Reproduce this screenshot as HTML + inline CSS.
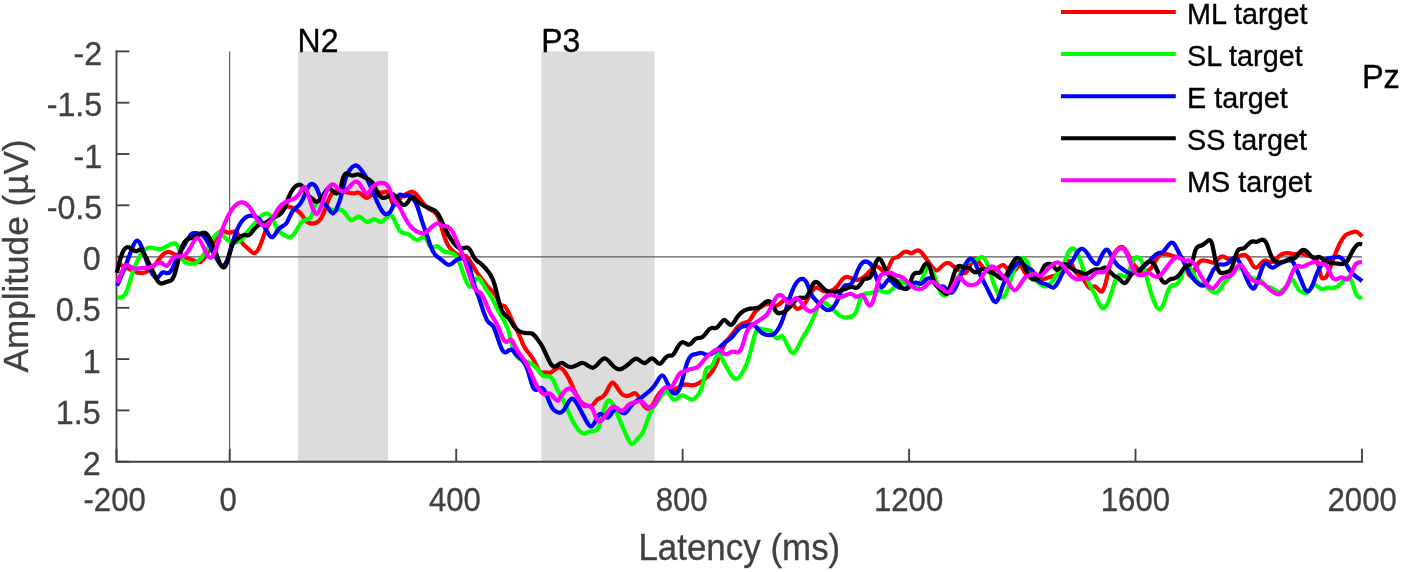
<!DOCTYPE html>
<html><head><meta charset="utf-8"><title>ERP Pz</title>
<style>
html,body{margin:0;padding:0;background:#fff;}
svg{display:block;}
text{font-family:"Liberation Sans",Arial,Helvetica,sans-serif;}
.tk{font-size:31.2px;fill:#404040;stroke:#404040;stroke-width:0.3px;}
.lb{font-size:33.6px;fill:#404040;stroke:#404040;stroke-width:0.3px;}
.lg{font-size:30.2px;fill:#000;stroke:#000;stroke-width:0.35px;}
.cv{fill:none;stroke-width:4.25;stroke-linejoin:round;stroke-linecap:butt;}
</style></head>
<body>
<svg width="1401" height="572" viewBox="0 0 1401 572">
<rect width="1401" height="572" fill="#ffffff"/>
<rect x="298" y="51.4" width="90" height="410.3" fill="#dcdcdc"/>
<rect x="541.4" y="51.4" width="113.1" height="410.3" fill="#dcdcdc"/>
<line x1="116.5" y1="256.8" x2="1362.0" y2="256.8" stroke="#5a5a5a" stroke-width="1.3"/>
<line x1="229.7" y1="51.4" x2="229.7" y2="461.7" stroke="#404040" stroke-width="1.0"/>
<path d="M116.5 50.3V461.7H1363.1" fill="none" stroke="#404040" stroke-width="1.85" stroke-linejoin="miter"/>
<line x1="116.5" y1="51.4" x2="129.4" y2="51.4" stroke="#404040" stroke-width="1.85"/>
<text class="tk" transform="translate(102.3,65.0) scale(1,1.05)" text-anchor="end" style="font-size:32.3px">-2</text>
<line x1="116.5" y1="102.7" x2="129.4" y2="102.7" stroke="#404040" stroke-width="1.85"/>
<text class="tk" transform="translate(102.3,116.3) scale(1,1.05)" text-anchor="end" style="font-size:32.3px">-1.5</text>
<line x1="116.5" y1="154.0" x2="129.4" y2="154.0" stroke="#404040" stroke-width="1.85"/>
<text class="tk" transform="translate(102.3,167.6) scale(1,1.05)" text-anchor="end" style="font-size:32.3px">-1</text>
<line x1="116.5" y1="205.3" x2="129.4" y2="205.3" stroke="#404040" stroke-width="1.85"/>
<text class="tk" transform="translate(102.3,218.9) scale(1,1.05)" text-anchor="end" style="font-size:32.3px">-0.5</text>
<line x1="116.5" y1="256.6" x2="129.4" y2="256.6" stroke="#404040" stroke-width="1.85"/>
<text class="tk" transform="translate(100.7,270.2) scale(1,1.05)" text-anchor="end" style="font-size:32.3px">0</text>
<line x1="116.5" y1="307.8" x2="129.4" y2="307.8" stroke="#404040" stroke-width="1.85"/>
<text class="tk" transform="translate(100.7,321.4) scale(1,1.05)" text-anchor="end" style="font-size:32.3px">0.5</text>
<line x1="116.5" y1="359.1" x2="129.4" y2="359.1" stroke="#404040" stroke-width="1.85"/>
<text class="tk" transform="translate(100.7,372.7) scale(1,1.05)" text-anchor="end" style="font-size:32.3px">1</text>
<line x1="116.5" y1="410.4" x2="129.4" y2="410.4" stroke="#404040" stroke-width="1.85"/>
<text class="tk" transform="translate(100.7,424.0) scale(1,1.05)" text-anchor="end" style="font-size:32.3px">1.5</text>
<line x1="116.5" y1="461.7" x2="129.4" y2="461.7" stroke="#404040" stroke-width="1.85"/>
<text class="tk" transform="translate(100.7,475.3) scale(1,1.05)" text-anchor="end" style="font-size:32.3px">2</text>
<line x1="116.5" y1="461.7" x2="116.5" y2="448.8" stroke="#404040" stroke-width="1.85"/>
<text class="tk" transform="translate(114.7,511.1) scale(1,1.078)" text-anchor="middle">-200</text>
<line x1="229.7" y1="461.7" x2="229.7" y2="448.8" stroke="#404040" stroke-width="1.85"/>
<text class="tk" transform="translate(228.1,511.1) scale(1,1.078)" text-anchor="middle">0</text>
<line x1="456.2" y1="461.7" x2="456.2" y2="448.8" stroke="#404040" stroke-width="1.85"/>
<text class="tk" transform="translate(454.9,511.1) scale(1,1.078)" text-anchor="middle">400</text>
<line x1="682.6" y1="461.7" x2="682.6" y2="448.8" stroke="#404040" stroke-width="1.85"/>
<text class="tk" transform="translate(681.7,511.1) scale(1,1.078)" text-anchor="middle">800</text>
<line x1="909.1" y1="461.7" x2="909.1" y2="448.8" stroke="#404040" stroke-width="1.85"/>
<text class="tk" transform="translate(908.6,511.1) scale(1,1.078)" text-anchor="middle">1200</text>
<line x1="1135.5" y1="461.7" x2="1135.5" y2="448.8" stroke="#404040" stroke-width="1.85"/>
<text class="tk" transform="translate(1135.4,511.1) scale(1,1.078)" text-anchor="middle">1600</text>
<line x1="1362.0" y1="461.7" x2="1362.0" y2="448.8" stroke="#404040" stroke-width="1.85"/>
<text class="tk" transform="translate(1362.2,511.1) scale(1,1.078)" text-anchor="middle">2000</text>
<path class="cv" stroke="#ff0000" d="M117.1 263.0C119.5 264.2 121.9 265.4 124.3 266.6C127.2 268.1 130.2 269.7 133.2 271.0C136.2 272.4 139.1 273.5 142.1 273.2C144.5 273.0 146.9 271.9 149.3 270.1C151.6 268.4 154.0 266.0 156.4 263.0C158.5 260.4 160.6 257.2 162.6 255.0C164.4 253.1 166.2 251.9 168.0 251.8C170.1 251.7 172.2 253.1 174.2 254.1C176.6 255.2 179.0 255.8 181.4 256.4C183.8 257.0 186.1 257.8 188.5 258.6C190.9 259.3 193.3 260.2 195.7 261.2C197.4 262.0 199.2 262.8 201.0 261.8C202.8 260.7 204.6 257.8 206.4 255.0C208.1 252.2 209.9 249.5 211.7 246.0C213.5 242.5 215.3 238.2 217.1 235.3C218.9 232.4 220.6 230.9 222.4 230.9C224.2 230.8 226.0 232.3 227.8 232.6C229.6 233.0 231.3 232.1 233.1 231.7C234.6 231.4 236.1 231.4 237.6 233.5C239.1 235.6 240.6 239.9 242.0 242.5C243.8 245.5 245.6 246.2 247.4 247.8C249.8 249.9 252.2 253.6 254.5 253.2C256.3 252.8 258.1 250.2 259.9 246.0C261.7 241.9 263.5 236.3 265.2 231.7C267.0 227.2 268.8 223.8 270.6 221.0C272.4 218.3 274.2 216.4 276.0 214.8C277.7 213.2 279.5 212.1 281.3 210.3C281.9 209.7 282.6 209.1 283.2 208.5C285.0 207.0 286.8 206.6 288.6 206.7C290.9 206.9 293.3 208.0 295.7 209.4C297.5 210.5 299.3 211.7 301.0 213.9C302.8 216.0 304.6 219.1 306.4 221.0C308.5 223.2 310.6 223.7 312.6 223.7C314.7 223.6 316.8 223.0 318.9 221.0C320.4 219.6 321.9 217.4 323.3 213.9C324.8 210.3 326.3 205.3 327.8 201.4C329.0 198.2 330.2 195.8 331.4 194.2C332.6 192.7 333.8 192.0 334.9 191.6C337.9 190.5 340.9 190.9 343.9 191.6C345.7 191.9 347.4 192.4 349.2 192.8C351.0 193.3 352.8 193.8 354.6 193.3C355.8 193.1 357.0 192.4 358.1 192.5C359.9 192.6 361.7 194.5 363.5 196.0C364.7 197.0 365.9 197.9 367.1 197.8C368.9 197.7 370.6 195.7 372.4 194.2C374.2 192.8 376.0 192.0 377.8 192.1C379.6 192.2 381.3 193.1 383.1 192.5C384.0 192.1 384.9 191.4 385.8 191.6C387.3 191.8 388.8 194.2 390.3 197.8C391.5 200.7 392.6 204.3 393.8 204.9C395.0 205.6 396.2 203.2 397.4 201.4C399.2 198.6 401.0 197.2 402.8 196.0C404.2 195.1 405.7 194.4 407.1 193.6C408.9 192.6 410.7 191.4 412.5 191.8C414.3 192.1 416.1 194.0 417.8 196.2C419.6 198.5 421.4 201.1 423.2 203.4C425.0 205.7 426.8 207.6 428.6 208.7C430.9 210.3 433.3 210.5 435.7 213.2C437.2 214.9 438.7 217.5 440.1 222.1C441.3 225.8 442.5 230.7 443.7 234.6C445.2 239.5 446.7 242.9 448.2 245.3C450.0 248.3 451.7 249.9 453.5 251.6C455.9 253.8 458.3 255.9 460.7 256.0C462.5 256.1 464.2 255.0 466.0 256.0C467.8 257.0 469.6 260.1 471.4 263.2C473.2 266.3 474.9 269.5 476.7 272.1C478.5 274.7 480.3 276.8 482.1 279.2C483.9 281.6 485.7 284.4 487.4 286.4C490.7 289.9 493.9 290.9 497.1 297.8C498.3 300.4 499.5 303.8 500.7 305.0C501.9 306.2 503.1 305.3 504.2 305.9C505.7 306.6 507.2 309.7 508.7 313.0C510.2 316.3 511.7 319.8 513.2 322.8C514.9 326.5 516.7 329.5 518.5 333.5C520.0 336.9 521.5 341.1 523.0 344.2C524.5 347.4 526.0 349.5 527.4 351.4C529.2 353.6 531.0 355.5 532.8 358.5C534.3 361.0 535.8 364.3 537.3 367.4C537.9 368.8 538.6 370.2 539.3 371.1C541.0 373.4 542.8 372.6 544.6 372.5C546.7 372.4 548.8 373.3 550.9 372.5C552.3 371.9 553.8 370.4 555.3 369.3C556.8 368.1 558.3 367.2 559.8 367.5C561.3 367.8 562.8 369.2 564.2 371.1C565.7 372.9 567.2 375.3 568.7 378.2C570.2 381.1 571.7 384.7 573.2 388.0C574.6 391.3 576.1 394.3 577.6 396.9C579.1 399.6 580.6 401.8 582.1 403.2C583.9 404.8 585.7 405.3 587.4 405.9C588.9 406.3 590.4 406.9 591.9 405.9C593.7 404.6 595.5 401.2 597.3 399.6C599.0 398.0 600.8 398.3 602.6 396.9C604.1 395.8 605.6 393.5 607.1 390.7C608.9 387.3 610.6 383.0 612.4 382.7C613.9 382.4 615.4 384.8 616.9 387.1C618.4 389.5 619.9 391.8 621.3 393.4C623.1 395.2 624.9 396.0 626.7 396.0C628.5 396.0 630.3 395.3 632.0 394.3C633.2 393.6 634.4 392.8 635.6 393.4C636.8 393.9 638.0 395.8 639.2 397.8C640.4 399.9 641.6 402.2 642.8 404.1C644.2 406.4 645.7 408.1 647.2 408.5C649.0 409.0 650.8 407.7 652.6 405.0C654.1 402.7 655.5 399.5 657.0 396.9C658.8 393.8 660.6 391.5 662.4 389.8C664.2 388.1 666.0 387.1 667.7 387.1C670.1 387.2 672.5 389.1 674.9 388.9C676.7 388.7 678.4 387.3 680.2 386.2C682.0 385.2 683.8 384.5 685.6 384.4C687.7 384.4 689.7 385.3 691.8 385.3C693.9 385.4 696.0 384.7 698.1 383.6C699.9 382.6 701.6 381.3 703.4 380.0C705.2 378.6 707.0 377.3 708.8 375.5C710.9 373.5 713.0 370.9 715.1 366.4C716.3 363.8 717.5 360.6 718.7 357.4C720.2 353.5 721.7 349.8 723.2 346.7C724.6 343.7 726.1 341.4 727.6 339.6C729.4 337.4 731.2 335.8 733.0 333.3C734.5 331.3 736.0 328.8 737.4 327.1C738.6 325.8 739.8 325.0 741.0 324.4C742.5 323.7 744.0 323.1 745.5 322.6C747.0 322.2 748.4 321.8 749.9 320.0C751.4 318.2 752.9 315.0 754.4 312.8C755.9 310.6 757.4 309.5 758.9 308.4C760.6 307.0 762.4 305.8 764.2 305.0C765.7 304.2 767.2 303.7 768.7 303.9C770.2 304.1 771.6 304.9 773.1 305.3C774.9 305.9 776.7 305.9 778.5 304.8C780.3 303.7 782.0 301.6 783.8 300.3C785.3 299.3 786.8 298.8 788.3 299.4C789.8 300.1 791.3 301.8 792.8 303.9C793.9 305.6 795.1 307.6 796.3 308.4C797.8 309.4 799.3 308.5 800.8 307.5C802.3 306.4 803.8 305.2 805.2 303.0C806.7 300.8 808.2 297.7 809.7 295.0C811.2 292.3 812.7 290.0 814.2 288.7C815.4 287.8 816.5 287.5 817.7 287.8C819.2 288.3 820.7 289.7 822.2 290.5C823.7 291.3 825.2 291.4 826.7 291.4C828.4 291.4 830.2 291.3 832.0 290.5C833.8 289.7 835.6 288.3 837.4 286.1C839.2 283.8 840.9 280.8 842.7 278.9C844.2 277.4 845.7 276.7 847.2 276.8C849.0 276.9 850.7 278.1 852.5 278.9C854.0 279.6 855.5 279.9 857.0 279.8C858.8 279.7 860.6 279.1 862.3 278.0C863.8 277.1 865.3 275.9 866.8 274.5C869.0 272.3 871.2 269.6 873.4 267.8C874.6 266.9 875.8 266.2 877.0 266.4C878.4 266.6 879.9 268.2 881.4 269.6C882.6 270.8 883.8 271.9 885.0 271.8C886.2 271.6 887.4 270.3 888.6 267.8C889.7 265.3 890.9 261.7 892.1 259.8C893.9 256.9 895.7 257.9 897.5 257.1C899.3 256.4 901.0 253.9 902.8 252.7C904.3 251.6 905.8 251.3 907.3 251.8C908.8 252.2 910.3 253.4 911.7 253.2C913.5 253.0 915.3 250.9 917.1 250.5C918.9 250.1 920.7 251.4 922.5 253.6C923.9 255.3 925.4 257.6 926.9 259.8C928.4 262.0 929.9 264.1 931.4 266.0C933.2 268.4 934.9 270.7 936.7 270.5C938.2 270.4 939.7 268.5 941.2 266.9C942.7 265.3 944.2 264.0 945.7 263.4C947.4 262.6 949.2 263.0 951.0 264.3C952.8 265.5 954.6 267.6 956.4 268.7C958.1 269.9 959.9 270.1 961.7 271.4C962.9 272.3 964.1 273.6 965.3 273.2C966.8 272.6 968.3 269.3 969.7 266.0C971.2 262.8 972.7 259.7 974.2 258.9C975.7 258.1 977.2 259.6 978.7 261.6C980.2 263.6 981.6 266.0 983.1 267.8C984.9 270.0 986.7 271.4 988.5 271.8C990.3 272.1 992.0 271.5 993.8 270.5C995.6 269.5 997.4 268.3 999.2 266.9C1000.7 265.8 1002.2 264.6 1003.6 265.1C1005.1 265.7 1006.6 268.0 1008.1 269.6C1009.6 271.2 1011.1 272.1 1012.6 271.8C1014.1 271.4 1015.5 269.8 1017.0 267.8C1018.2 266.2 1019.4 264.4 1020.6 265.1C1021.8 265.9 1023.0 269.1 1024.2 271.4C1026.0 274.8 1027.7 275.9 1029.5 276.7C1031.0 277.5 1032.5 278.1 1034.0 278.5C1036.1 279.2 1038.1 279.5 1040.2 279.4C1042.0 279.4 1043.8 279.1 1045.6 278.5C1047.4 278.0 1049.2 277.2 1050.9 276.7C1052.7 276.3 1054.5 276.3 1056.3 275.0C1058.1 273.6 1059.9 271.1 1061.6 268.7C1063.4 266.4 1065.2 264.3 1067.0 262.5C1068.2 261.3 1069.4 260.1 1070.6 261.6C1071.8 263.0 1072.9 267.0 1074.1 269.6C1075.6 272.9 1077.1 274.0 1078.6 275.0C1080.1 275.9 1081.6 276.7 1083.1 278.5C1084.5 280.4 1086.0 283.4 1087.5 285.7C1088.3 286.9 1089.2 287.9 1090.0 288.2C1091.5 288.6 1093.0 286.5 1094.5 286.4C1095.9 286.3 1097.4 288.2 1098.9 289.9C1099.8 291.0 1100.7 292.0 1101.6 291.7C1102.8 291.3 1104.0 288.6 1105.2 284.6C1106.4 280.6 1107.5 275.2 1108.7 270.3C1109.9 265.4 1111.1 261.1 1112.3 257.8C1113.8 253.8 1115.3 251.5 1116.8 249.8C1118.6 247.7 1120.3 246.5 1122.1 247.1C1123.9 247.7 1125.7 250.2 1127.5 253.4C1129.3 256.5 1131.0 260.3 1132.8 263.2C1134.3 265.5 1135.8 267.2 1137.3 268.5C1139.4 270.4 1141.5 271.5 1143.5 271.7C1145.3 272.0 1147.1 271.6 1148.9 270.3C1150.4 269.2 1151.9 267.4 1153.3 265.0C1155.1 262.0 1156.9 258.1 1158.7 256.0C1160.8 253.6 1162.9 253.6 1164.9 253.9C1166.7 254.1 1168.5 254.5 1170.3 255.1C1172.7 256.0 1175.1 257.3 1177.4 256.9C1179.2 256.7 1181.0 255.5 1182.8 258.7C1184.0 260.9 1185.2 265.0 1186.4 268.5C1187.5 272.1 1188.7 275.0 1189.9 275.7C1191.7 276.6 1193.5 272.3 1195.3 268.5C1196.5 266.0 1197.7 263.7 1198.9 262.3C1200.6 260.2 1202.4 260.3 1204.2 260.5C1206.0 260.7 1207.8 261.1 1209.6 261.8C1211.3 262.4 1213.1 263.3 1214.9 262.3C1216.4 261.4 1217.9 259.2 1219.4 257.8C1220.6 256.7 1221.8 256.2 1222.9 256.4C1224.4 256.6 1225.9 258.0 1227.4 258.7C1228.6 259.3 1229.8 259.6 1231.0 259.6C1232.5 259.7 1233.9 259.4 1235.4 258.7C1236.9 258.0 1238.4 256.9 1239.9 256.0C1241.7 255.0 1243.5 254.5 1245.2 255.1C1246.7 255.7 1248.2 257.1 1249.7 259.6C1250.9 261.6 1252.1 264.2 1253.3 265.9C1254.5 267.5 1255.7 268.1 1256.8 267.6C1258.3 267.1 1259.8 264.9 1261.3 263.2C1262.8 261.5 1264.3 260.4 1265.8 260.5C1267.3 260.6 1268.7 262.0 1270.2 262.3C1271.7 262.6 1273.2 261.8 1274.7 260.5C1276.2 259.2 1277.7 257.3 1279.2 256.0C1280.9 254.5 1282.7 253.7 1284.5 253.4C1286.3 253.0 1288.1 253.0 1289.9 253.4C1291.6 253.7 1293.4 254.4 1295.2 254.3C1297.0 254.2 1298.8 253.3 1300.6 253.4C1302.1 253.4 1303.5 254.0 1305.0 254.6C1306.5 255.2 1308.0 255.7 1309.5 256.0C1311.3 256.4 1313.1 256.5 1314.8 257.8C1316.0 258.7 1317.2 260.2 1318.4 265.0C1319.3 268.6 1320.2 274.0 1321.1 276.5C1322.0 279.0 1322.9 278.6 1323.8 278.3C1324.7 278.0 1325.6 277.8 1326.5 276.5C1327.4 275.2 1328.3 272.7 1329.1 270.3C1330.9 265.4 1332.7 260.6 1334.5 256.0C1336.3 251.4 1338.1 247.1 1339.8 243.5C1341.6 240.0 1343.4 237.2 1345.2 235.5C1347.3 233.5 1349.3 233.1 1351.4 232.5C1353.2 231.9 1355.0 231.3 1356.8 231.9C1358.0 232.4 1359.2 233.5 1360.3 234.6C1360.9 235.2 1361.5 235.8 1362.1 236.4"/>
<path class="cv" stroke="#00ff00" d="M117.1 297.5C118.9 297.7 120.7 297.9 122.5 296.9C124.0 296.1 125.5 294.4 127.0 290.7C128.4 287.0 129.9 281.2 131.4 276.4C133.2 270.6 135.0 266.0 136.8 262.1C139.1 256.9 141.5 252.9 143.9 250.5C146.0 248.4 148.1 247.5 150.1 247.5C152.2 247.5 154.3 248.3 156.4 248.7C158.8 249.2 161.2 249.2 163.5 248.2C165.3 247.4 167.1 246.1 168.9 245.1C170.7 244.1 172.5 243.4 174.2 243.3C175.7 243.3 177.2 243.7 178.7 247.8C179.6 250.3 180.5 254.1 181.4 256.7C183.2 262.0 184.9 262.5 186.7 263.0C188.8 263.6 190.9 264.1 193.0 263.9C195.1 263.6 197.1 262.4 199.2 260.3C201.0 258.5 202.8 255.9 204.6 253.2C206.4 250.4 208.1 247.4 209.9 244.2C211.7 241.0 213.5 237.6 215.3 235.3C216.8 233.4 218.3 232.3 219.7 232.6C221.8 233.2 223.9 236.7 226.0 238.9C228.4 241.4 230.7 242.1 233.1 242.5C235.5 242.8 237.9 242.7 240.3 240.7C242.6 238.7 245.0 234.8 247.4 231.7C249.8 228.7 252.2 226.5 254.5 223.7C256.9 221.0 259.3 217.7 261.7 215.7C263.5 214.2 265.2 213.3 267.0 213.5C268.8 213.8 270.6 215.0 272.4 218.4C273.9 221.2 275.4 225.4 276.8 228.2C278.9 232.1 281.0 233.1 283.1 234.4C285.5 235.9 287.8 237.8 290.2 237.1C292.0 236.6 293.8 234.6 295.6 231.7C297.7 228.5 299.7 224.1 301.8 221.9C303.9 219.8 306.0 220.0 308.1 219.3C309.7 218.7 311.4 217.6 313.0 212.5C313.7 210.3 314.4 207.5 315.1 205.6C316.1 203.0 317.0 202.4 318.0 201.5C318.9 200.7 319.8 199.7 320.7 199.8C321.8 199.9 322.9 201.5 324.0 203.0C325.3 204.9 326.7 206.6 328.0 207.8C329.3 209.0 330.7 209.5 332.0 209.8C333.5 210.1 335.0 210.0 336.5 209.8C337.8 209.6 339.2 209.4 340.5 209.6C341.7 209.8 342.8 210.4 344.0 211.7C346.3 214.2 348.7 219.4 351.0 220.1C353.4 220.8 355.8 216.8 358.1 216.5C361.1 216.2 364.1 221.6 367.1 221.9C369.4 222.2 371.8 219.2 374.2 219.2C376.6 219.3 379.0 222.3 381.3 221.9C383.7 221.5 386.1 217.5 388.5 215.7C389.7 214.7 390.9 214.3 392.0 215.7C393.2 217.0 394.4 220.0 395.6 222.8C397.1 226.2 398.5 229.3 400.0 231.0C402.4 233.8 404.8 233.0 407.1 233.7C408.9 234.3 410.7 235.7 412.5 237.3C414.0 238.6 415.5 239.9 417.0 240.0C418.7 240.0 420.5 238.2 422.3 237.3C423.5 236.7 424.7 236.5 425.9 238.2C427.1 239.9 428.3 243.4 429.4 245.3C430.9 247.7 432.4 247.6 433.9 247.1C435.1 246.7 436.3 245.9 437.5 246.2C439.3 246.6 441.0 249.3 442.8 250.7C445.2 252.5 447.6 252.2 450.0 252.5C451.7 252.7 453.5 253.2 455.3 255.1C456.8 256.7 458.3 259.2 459.8 263.2C461.0 266.3 462.2 270.3 463.3 273.9C464.5 277.4 465.7 280.5 466.9 282.8C468.4 285.7 469.9 287.5 471.4 286.4C472.9 285.2 474.4 281.2 475.8 279.2C477.0 277.6 478.2 277.3 479.4 278.3C481.1 279.8 482.9 284.0 484.6 287.1C487.0 291.5 489.4 293.8 491.7 297.8C493.8 301.4 495.9 306.3 498.0 310.3C500.1 314.3 502.2 317.4 504.2 321.0C505.7 323.6 507.2 326.5 508.7 331.7C509.6 334.9 510.5 339.0 511.4 342.5C512.6 347.1 513.8 350.6 514.9 353.2C516.7 356.9 518.5 358.4 520.3 359.4C522.7 360.7 525.1 361.3 527.4 362.1C529.2 362.7 531.0 363.4 532.8 364.8C534.3 365.9 535.8 367.4 537.3 369.2C539.1 371.5 541.0 374.3 542.8 375.5C544.6 376.7 546.4 376.3 548.2 376.4C549.7 376.5 551.2 376.8 552.6 379.1C554.1 381.4 555.6 385.6 557.1 388.9C558.9 392.8 560.7 395.4 562.5 398.7C564.2 402.1 566.0 406.2 567.8 410.3C569.6 414.4 571.4 418.5 573.2 421.9C574.9 425.3 576.7 427.9 578.5 429.9C580.3 432.0 582.1 433.4 583.9 433.5C585.7 433.6 587.4 432.3 589.2 431.7C591.0 431.1 592.8 431.1 594.6 430.8C596.1 430.6 597.5 430.1 599.0 426.4C600.2 423.4 601.4 418.4 602.6 413.9C603.8 409.4 605.0 405.5 606.2 403.2C607.4 400.8 608.6 400.0 609.7 400.5C611.2 401.1 612.7 403.6 614.2 406.7C615.7 409.9 617.2 413.8 618.7 417.5C620.2 421.2 621.6 424.7 623.1 428.2C624.6 431.6 626.1 434.9 627.6 438.0C629.1 441.1 630.6 444.0 632.0 444.2C633.8 444.5 635.6 441.0 637.4 438.9C639.2 436.7 641.0 436.0 642.8 432.6C644.2 429.8 645.7 425.2 647.2 421.0C648.7 416.8 650.2 413.1 651.7 410.3C653.8 406.4 655.8 404.4 657.9 401.4C659.7 398.8 661.5 395.5 663.3 393.4C664.5 391.9 665.7 391.0 666.8 391.6C668.0 392.2 669.2 394.3 670.4 396.0C671.9 398.2 673.4 399.7 674.9 399.6C676.7 399.5 678.4 397.1 680.2 396.0C681.4 395.4 682.6 395.3 683.8 395.7C685.6 396.3 687.4 397.8 689.2 398.7C690.9 399.6 692.7 400.0 694.5 398.7C696.0 397.7 697.5 395.5 699.0 393.4C700.5 391.2 701.9 389.0 703.4 381.8C704.1 378.7 704.7 374.7 705.3 372.1C707.1 364.6 708.9 368.1 710.7 367.3C712.2 366.5 713.6 362.7 715.1 359.2C716.3 356.4 717.5 353.8 718.7 353.9C719.9 354.0 721.1 356.8 722.3 359.2C723.8 362.2 725.2 364.5 726.7 367.3C728.2 370.0 729.7 373.1 731.2 375.3C733.0 377.9 734.8 379.2 736.5 378.9C738.3 378.5 740.1 376.4 741.9 373.5C743.4 371.1 744.9 368.2 746.4 364.6C747.5 361.7 748.7 358.3 749.9 353.9C751.1 349.5 752.3 344.1 753.5 339.6C754.7 335.1 755.9 331.5 757.1 329.8C758.6 327.6 760.0 328.4 761.5 328.9C763.3 329.5 765.1 329.7 766.9 329.8C768.4 329.8 769.9 329.8 771.3 331.6C772.5 333.0 773.7 335.5 774.9 336.9C776.1 338.3 777.3 338.5 778.5 337.8C779.7 337.1 780.9 335.6 782.0 336.0C783.2 336.4 784.4 338.8 785.6 341.4C787.1 344.6 788.6 348.0 790.1 350.3C791.3 352.2 792.5 353.3 793.6 353.0C794.8 352.6 796.0 350.7 797.2 348.5C798.7 345.7 800.2 342.4 801.7 339.6C803.5 336.2 805.2 333.7 807.0 330.7C808.8 327.6 810.6 324.1 812.4 320.0C813.9 316.5 815.4 312.6 816.8 309.3C818.3 305.9 819.8 303.1 821.3 302.1C823.1 301.0 824.9 302.5 826.7 303.9C828.4 305.3 830.2 306.7 832.0 308.4C833.8 310.1 835.6 312.1 837.4 313.7C839.4 315.6 841.5 316.8 843.6 317.3C846.3 317.9 849.0 317.2 851.6 316.4C853.1 315.9 854.6 315.4 856.1 311.9C857.6 308.5 859.1 302.1 860.6 298.6C861.8 295.7 862.9 294.7 864.1 294.1C865.9 293.2 867.7 293.5 869.5 293.2C871.3 292.9 873.1 292.1 874.8 291.4C876.6 290.7 878.4 290.2 880.2 290.5C882.0 290.8 883.8 292.0 885.5 292.3C887.0 292.6 888.5 292.3 890.0 291.4C891.8 290.3 893.6 288.3 895.4 285.2C896.1 283.9 896.8 282.6 897.5 281.7C899.0 280.0 900.4 280.9 901.9 281.7C903.4 282.6 904.9 283.3 906.4 283.9C908.2 284.6 910.0 285.2 911.7 285.7C913.5 286.1 915.3 286.5 917.1 285.7C918.6 285.0 920.1 283.5 921.6 280.3C922.8 277.8 923.9 274.1 925.1 271.4C926.3 268.7 927.5 266.9 928.7 266.9C930.2 267.0 931.7 269.9 933.2 273.2C934.4 275.8 935.5 278.7 936.7 282.1C937.9 285.5 939.1 289.5 940.3 291.9C941.8 294.9 943.3 295.6 944.8 295.5C946.2 295.4 947.7 294.6 949.2 292.8C951.0 290.6 952.8 286.9 954.6 283.9C956.4 280.8 958.1 278.5 959.9 275.0C961.7 271.5 963.5 266.9 965.3 264.3C967.1 261.6 968.9 261.0 970.6 260.7C972.4 260.4 974.2 260.6 976.0 259.8C978.1 258.9 980.2 256.8 982.2 257.1C983.7 257.4 985.2 258.9 986.7 262.5C987.9 265.3 989.1 269.5 990.3 273.2C991.8 277.8 993.2 281.8 994.7 285.7C996.2 289.6 997.7 293.4 999.2 295.5C1000.4 297.1 1001.6 297.7 1002.8 297.3C1003.9 296.9 1005.1 295.5 1006.3 292.8C1007.5 290.1 1008.7 286.0 1009.9 282.1C1011.1 278.2 1012.3 274.5 1013.5 271.4C1014.9 267.6 1016.4 264.7 1017.9 262.5C1019.7 259.8 1021.5 257.8 1023.3 258.0C1024.8 258.2 1026.3 259.8 1027.7 263.4C1028.9 266.2 1030.1 270.3 1031.3 273.2C1032.8 276.8 1034.3 278.8 1035.8 280.3C1037.6 282.2 1039.3 283.6 1041.1 284.8C1042.6 285.8 1044.1 286.6 1045.6 286.6C1047.4 286.5 1049.2 285.1 1050.9 283.0C1052.4 281.3 1053.9 279.1 1055.4 276.7C1056.9 274.4 1058.4 271.8 1059.9 269.6C1061.6 267.0 1063.4 264.9 1065.2 260.7C1066.4 257.9 1067.6 254.1 1068.8 251.8C1070.3 248.9 1071.8 248.2 1073.2 248.6C1074.7 248.9 1076.2 250.3 1077.7 253.6C1079.2 256.8 1080.7 262.0 1082.2 266.0C1083.6 270.1 1085.1 273.0 1086.6 276.7C1087.7 279.6 1088.9 283.0 1090.0 285.5C1091.5 288.8 1093.0 290.6 1094.5 293.5C1095.9 296.4 1097.4 300.4 1098.9 303.3C1100.7 306.9 1102.5 309.1 1104.3 308.1C1105.8 307.4 1107.2 304.5 1108.7 300.7C1109.9 297.6 1111.1 293.8 1112.3 289.9C1113.5 286.0 1114.7 282.0 1115.9 279.2C1117.4 275.8 1118.8 274.5 1120.3 274.8C1121.8 275.0 1123.3 276.8 1124.8 276.6C1126.6 276.3 1128.4 273.2 1130.1 268.5C1131.3 265.5 1132.5 261.7 1133.7 259.6C1135.2 257.0 1136.7 256.9 1138.2 257.5C1139.7 258.0 1141.2 259.3 1142.6 263.2C1143.8 266.3 1145.0 271.1 1146.2 275.7C1147.7 281.4 1149.2 286.8 1150.7 291.7C1152.2 296.6 1153.6 301.0 1155.1 304.2C1156.6 307.4 1158.1 309.5 1159.6 309.2C1161.1 309.0 1162.6 306.4 1164.1 302.4C1165.5 298.5 1167.0 293.2 1168.5 289.9C1169.7 287.3 1170.9 286.1 1172.1 285.5C1173.9 284.6 1175.7 285.3 1177.4 283.7C1178.6 282.6 1179.8 280.5 1181.0 277.5C1182.2 274.5 1183.4 270.6 1184.6 268.5C1185.8 266.5 1187.0 266.2 1188.1 266.7C1189.6 267.4 1191.1 269.2 1192.6 272.1C1194.1 275.0 1195.6 279.0 1197.1 281.0C1198.6 283.1 1200.0 283.2 1201.5 283.7C1203.0 284.2 1204.5 285.2 1206.0 286.4C1207.8 287.8 1209.6 289.5 1211.3 290.8C1212.8 292.0 1214.3 292.8 1215.8 292.6C1217.3 292.4 1218.8 291.1 1220.3 289.1C1222.0 286.6 1223.8 283.2 1225.6 281.0C1227.1 279.2 1228.6 278.1 1230.1 276.6C1231.9 274.7 1233.6 272.1 1235.4 270.3C1237.5 268.3 1239.6 267.4 1241.7 268.5C1243.5 269.5 1245.2 271.8 1247.0 273.9C1248.8 275.9 1250.6 277.6 1252.4 278.3C1254.2 279.1 1256.0 278.8 1257.7 279.2C1259.2 279.6 1260.7 280.5 1262.2 281.9C1263.7 283.4 1265.2 285.4 1266.7 286.4C1268.4 287.6 1270.2 287.2 1272.0 288.2C1273.8 289.1 1275.6 291.2 1277.4 291.7C1279.2 292.2 1280.9 291.1 1282.7 289.9C1284.5 288.8 1286.3 287.7 1288.1 284.6C1289.3 282.5 1290.5 279.5 1291.6 279.2C1292.8 279.0 1294.0 281.4 1295.2 283.7C1296.7 286.6 1298.2 289.4 1299.7 290.8C1301.2 292.3 1302.6 292.4 1304.1 292.6C1305.6 292.9 1307.1 293.3 1308.6 291.7C1310.1 290.2 1311.6 286.7 1313.1 285.5C1314.5 284.2 1316.0 285.2 1317.5 286.4C1319.0 287.5 1320.5 288.8 1322.0 289.1C1323.8 289.3 1325.5 288.1 1327.3 287.8C1329.1 287.5 1330.9 288.2 1332.7 288.2C1335.1 288.1 1337.5 286.7 1339.8 284.5C1341.6 282.9 1343.4 280.9 1345.2 279.2C1346.4 278.0 1347.6 277.0 1348.8 277.4C1349.9 277.8 1351.1 279.5 1352.3 282.7C1353.5 286.0 1354.7 290.6 1355.9 293.4C1357.1 296.2 1358.3 297.2 1359.5 297.4C1360.3 297.5 1361.2 297.3 1362.1 297.0"/>
<path class="cv" stroke="#0000ff" d="M117.1 285.7C119.2 280.9 121.3 276.1 123.4 271.0C125.5 266.0 127.5 260.6 129.6 255.0C132.3 247.7 135.0 239.9 137.7 240.7C140.3 241.5 143.0 250.8 145.7 258.6C148.1 265.4 150.4 271.0 152.8 274.6C154.3 276.9 155.8 278.4 157.3 277.8C159.1 277.1 160.9 273.4 162.6 272.5C164.1 271.7 165.6 273.0 167.1 273.2C168.6 273.4 170.1 272.5 171.6 270.1C173.3 267.3 175.1 262.5 176.9 258.6C179.6 252.7 182.3 249.0 184.9 244.2C187.3 240.0 189.7 234.8 192.1 233.5C193.0 233.1 193.9 233.1 194.8 233.2C197.4 233.3 200.1 233.0 202.8 235.3C205.2 237.4 207.5 241.6 209.9 246.0C212.3 250.5 214.7 255.2 217.1 259.4C218.9 262.6 220.6 265.5 222.4 265.7C224.2 265.8 226.0 263.3 227.8 258.5C229.6 253.7 231.3 246.5 233.1 240.7C236.1 230.9 239.1 224.8 242.0 221.0C245.0 217.3 248.0 215.8 251.0 215.7C253.3 215.6 255.7 216.3 258.1 218.4C260.5 220.4 262.9 223.9 265.2 228.2C267.6 232.5 270.0 237.7 272.4 237.1C274.5 236.6 276.5 231.5 278.6 229.1C281.3 225.9 284.0 226.9 286.7 222.8C288.4 220.1 290.2 215.1 292.0 212.1C293.8 209.1 295.6 208.2 297.4 206.8C299.2 205.3 300.9 203.4 302.7 199.6C304.5 195.9 306.3 190.2 308.1 187.1C309.3 185.1 310.5 184.1 311.6 183.9C313.4 183.7 315.2 185.1 317.0 188.9C319.1 193.3 321.2 200.9 323.2 203.2C324.0 204.1 324.9 204.2 325.7 204.8C327.1 205.9 328.5 208.6 330.0 210.8C330.8 212.2 331.7 213.4 332.6 213.5C334.0 213.7 335.4 211.4 336.7 208.5C338.2 205.4 339.7 201.6 341.2 196.0C342.7 190.4 344.2 183.0 345.7 178.2C347.4 172.4 349.2 170.2 351.0 168.4C352.7 166.6 354.3 165.2 356.0 165.3C357.6 165.5 359.2 167.2 360.8 169.3C362.9 171.9 365.0 175.1 367.1 179.1C368.9 182.5 370.6 186.5 372.4 190.7C374.2 194.9 376.0 199.3 377.8 203.2C379.3 206.4 380.7 209.2 382.2 211.2C383.7 213.2 385.2 214.4 386.7 214.2C388.5 214.1 390.3 212.1 392.0 208.5C393.5 205.6 395.0 201.6 396.5 198.7C397.7 196.4 398.9 194.9 400.1 194.6C401.6 194.3 403.1 196.0 404.5 196.0C405.4 196.1 406.3 195.6 407.1 195.4C409.2 194.9 411.3 196.1 413.4 198.9C414.9 200.9 416.4 203.7 417.8 207.8C419.3 212.0 420.8 217.6 422.3 222.1C423.8 226.7 425.3 230.3 426.8 234.6C428.0 238.1 429.1 242.1 430.3 245.3C431.8 249.4 433.3 252.3 434.8 254.2C436.6 256.6 438.4 257.4 440.1 258.7C441.9 260.0 443.7 261.7 445.5 263.2C446.7 264.1 447.9 265.0 449.1 264.9C450.6 264.9 452.0 263.6 453.5 262.3C455.3 260.7 457.1 259.3 458.9 258.7C460.4 258.2 461.9 258.3 463.3 258.7C464.5 259.0 465.7 259.6 466.9 261.4C468.1 263.1 469.3 266.1 470.5 270.3C471.6 274.3 472.8 279.6 473.9 283.6C475.4 288.8 476.9 292.0 478.4 296.1C480.1 300.9 481.9 306.9 483.7 312.1C485.2 316.4 486.7 320.2 488.2 321.9C489.7 323.7 491.2 323.5 492.6 325.5C493.8 327.1 495.0 330.1 496.2 333.5C497.4 337.0 498.6 341.0 499.8 344.2C501.0 347.5 502.2 350.1 503.3 351.4C504.2 352.3 505.1 352.6 506.0 352.3C507.8 351.7 509.6 349.1 511.4 349.6C512.6 350.0 513.8 351.7 514.9 353.2C516.1 354.6 517.3 355.7 518.5 356.7C520.3 358.3 522.1 359.7 523.9 362.1C525.1 363.7 526.2 365.8 527.4 369.2C529.3 374.6 531.2 383.3 533.0 387.1C534.2 389.6 535.4 390.0 536.6 389.8C538.4 389.4 540.1 387.4 541.9 388.0C543.1 388.4 544.3 390.0 545.5 392.5C546.7 395.0 547.9 398.4 549.1 401.4C550.3 404.4 551.5 406.8 552.6 408.5C554.1 410.6 555.6 411.5 557.1 412.1C558.6 412.7 560.1 412.9 561.6 412.1C563.1 411.3 564.5 409.4 566.0 406.7C567.2 404.6 568.4 402.1 569.6 400.5C570.5 399.3 571.4 398.7 572.3 398.7C573.8 398.8 575.2 400.8 576.7 403.2C578.5 406.1 580.3 409.5 582.1 413.0C583.9 416.5 585.7 420.0 587.4 422.8C588.6 424.7 589.8 426.3 591.0 426.4C592.5 426.4 594.0 424.0 595.5 421.0C597.0 418.1 598.4 414.6 599.9 413.9C601.1 413.3 602.3 414.6 603.5 415.7C605.0 417.0 606.5 418.1 608.0 417.5C609.4 416.8 610.9 414.3 612.4 412.1C613.6 410.4 614.8 408.8 616.0 408.5C617.8 408.1 619.6 410.7 621.3 412.1C622.5 413.1 623.7 413.5 624.9 413.0C626.7 412.2 628.5 409.0 630.3 406.7C632.6 403.7 635.0 402.2 637.4 400.5C639.8 398.8 642.2 397.0 644.5 395.1C646.9 393.3 649.3 391.5 651.7 388.9C653.5 387.0 655.2 384.7 657.0 381.8C658.8 378.8 660.6 375.3 662.4 375.5C663.9 375.7 665.4 378.6 666.8 381.8C668.3 385.0 669.8 388.5 671.3 390.7C672.8 392.9 674.3 393.8 675.8 393.4C677.3 392.9 678.7 391.1 680.2 387.1C681.4 383.9 682.6 379.3 683.8 374.6C685.0 370.0 686.2 365.4 687.4 362.1C688.6 358.8 689.8 356.8 691.0 355.7C692.8 354.0 694.6 354.2 696.4 353.9C698.2 353.5 700.0 352.7 701.7 353.0C703.2 353.2 704.7 354.4 706.2 354.8C708.0 355.3 709.8 354.7 711.6 353.9C713.9 352.7 716.3 350.9 718.7 348.5C720.8 346.4 722.9 343.9 724.9 342.3C726.7 340.9 728.5 340.2 730.3 338.7C732.1 337.2 733.9 334.7 735.7 332.5C737.4 330.2 739.2 328.1 741.0 327.1C743.1 325.9 745.2 326.3 747.3 325.7C749.0 325.2 750.8 324.0 752.6 324.4C754.1 324.8 755.6 326.4 757.1 328.0C758.9 330.0 760.6 332.1 762.4 333.3C764.8 335.0 767.2 335.2 769.6 335.1C771.3 335.1 773.1 334.9 774.9 333.3C776.4 332.1 777.9 329.9 779.4 327.1C780.9 324.3 782.3 320.7 783.8 316.4C785.3 312.0 786.8 306.9 788.3 302.1C789.8 297.4 791.3 293.1 792.8 289.6C794.5 285.5 796.3 282.4 798.1 280.7C799.6 279.3 801.1 278.7 802.6 278.9C804.1 279.1 805.5 280.0 807.0 283.4C808.2 286.1 809.4 290.4 810.6 293.2C812.1 296.7 813.6 298.1 815.1 299.4C816.5 300.8 818.0 302.3 819.5 303.9C821.0 305.5 822.5 307.2 824.0 308.4C825.5 309.6 827.0 310.2 828.4 310.1C830.2 310.0 832.0 308.8 833.8 306.6C835.3 304.7 836.8 302.2 838.3 298.6C839.4 295.6 840.6 292.0 841.8 289.6C843.3 286.6 844.8 285.5 846.3 285.2C847.8 284.8 849.3 285.3 850.7 284.3C851.9 283.4 853.1 281.6 854.3 278.9C855.5 276.3 856.7 272.8 857.9 270.0C859.4 266.5 860.9 264.2 862.3 262.9C864.1 261.3 865.9 261.2 867.7 262.0C869.5 262.7 871.3 264.2 873.1 268.2C874.5 271.6 876.0 276.7 877.5 280.7C878.7 283.9 879.9 286.4 881.1 287.0C882.3 287.5 883.5 286.1 884.7 284.3C885.8 282.5 887.0 280.4 888.2 279.8C889.7 279.1 891.2 280.9 892.7 282.5C894.5 284.4 896.3 286.0 898.0 287.0C898.7 287.3 899.4 287.6 900.1 287.8C901.6 288.3 903.1 288.5 904.6 288.5C905.8 288.6 907.0 288.5 908.2 287.8C909.4 287.1 910.6 285.9 911.7 284.8C913.2 283.4 914.7 282.3 916.2 282.5C917.7 282.6 919.2 284.1 920.7 283.9C922.2 283.7 923.6 281.8 925.1 280.3C926.6 278.9 928.1 277.8 929.6 278.2C931.1 278.5 932.6 280.2 934.1 282.1C935.5 284.0 937.0 286.0 938.5 286.6C940.3 287.2 942.1 285.7 943.9 286.6C945.4 287.2 946.8 289.5 948.3 291.0C949.8 292.5 951.3 293.2 952.8 291.9C954.3 290.6 955.8 287.3 957.3 283.9C958.7 280.4 960.2 276.8 961.7 273.2C963.2 269.6 964.7 266.1 966.2 263.4C968.0 260.1 969.7 258.1 971.5 258.9C973.0 259.5 974.5 262.1 976.0 265.1C977.5 268.2 979.0 271.8 980.4 275.0C981.9 278.2 983.4 281.0 984.9 283.9C986.4 286.8 987.9 289.6 989.4 292.8C990.6 295.3 991.8 298.1 992.9 299.9C993.8 301.4 994.7 302.3 995.6 302.1C996.8 301.8 998.0 299.6 999.2 296.4C1000.4 293.1 1001.6 288.9 1002.8 285.7C1004.2 281.6 1005.7 279.2 1007.2 276.7C1008.7 274.3 1010.2 271.8 1011.7 269.6C1013.2 267.4 1014.7 265.4 1016.1 264.3C1017.9 262.8 1019.7 262.6 1021.5 263.4C1023.6 264.3 1025.7 266.8 1027.7 267.8C1029.2 268.6 1030.7 268.6 1032.2 270.5C1033.7 272.4 1035.2 276.1 1036.7 278.5C1038.4 281.4 1040.2 282.4 1042.0 283.0C1043.8 283.6 1045.6 283.8 1047.4 284.8C1049.4 285.9 1051.5 288.2 1053.6 287.5C1055.1 286.9 1056.6 284.9 1058.1 282.1C1059.6 279.3 1061.0 275.9 1062.5 273.2C1064.3 270.0 1066.1 267.8 1067.9 266.0C1069.7 264.2 1071.5 262.7 1073.2 259.8C1074.7 257.4 1076.2 253.9 1077.7 251.8C1079.5 249.2 1081.3 248.4 1083.1 249.1C1084.5 249.7 1086.0 251.2 1087.5 253.6C1089.0 255.9 1090.5 258.9 1092.0 260.7C1092.5 261.3 1093.0 261.8 1093.6 262.3C1094.8 263.4 1095.9 264.7 1097.1 264.1C1098.6 263.2 1100.1 259.3 1101.6 256.0C1103.4 252.1 1105.2 249.2 1107.0 249.8C1108.1 250.2 1109.3 252.1 1110.5 254.3C1112.0 257.0 1113.5 260.1 1115.0 262.3C1116.8 265.0 1118.6 266.4 1120.3 267.6C1122.1 268.9 1123.9 270.1 1125.7 271.2C1127.8 272.5 1129.9 273.7 1131.9 273.5C1133.7 273.4 1135.5 272.3 1137.3 271.2C1139.4 269.9 1141.5 268.5 1143.5 266.7C1146.5 264.2 1149.5 261.0 1152.5 257.8C1154.2 255.9 1156.0 254.1 1157.8 253.4C1159.6 252.6 1161.4 252.9 1163.2 251.6C1164.6 250.5 1166.1 248.2 1167.6 246.2C1169.1 244.2 1170.6 242.4 1172.1 242.7C1173.6 242.9 1175.1 245.2 1176.5 248.0C1178.0 250.8 1179.5 254.1 1181.0 256.9C1182.5 259.8 1184.0 262.1 1185.5 265.0C1187.0 267.8 1188.4 271.2 1189.9 273.9C1191.7 277.1 1193.5 279.2 1195.3 281.0C1196.8 282.5 1198.3 283.7 1199.7 284.6C1201.2 285.5 1202.7 286.0 1204.2 285.1C1205.7 284.3 1207.2 282.1 1208.7 279.2C1210.2 276.4 1211.6 273.0 1213.1 270.3C1214.6 267.7 1216.1 265.8 1217.6 265.0C1219.4 264.0 1221.2 264.5 1222.9 264.6C1224.4 264.7 1225.9 264.5 1227.4 263.5C1229.2 262.4 1231.0 260.0 1232.8 258.7C1234.2 257.6 1235.7 257.3 1237.2 258.7C1238.7 260.1 1240.2 263.3 1241.7 266.7C1243.2 270.2 1244.7 273.9 1246.1 277.5C1247.6 281.0 1249.1 284.2 1250.6 286.4C1251.8 288.1 1253.0 289.1 1254.2 288.2C1255.4 287.3 1256.5 284.4 1257.7 281.0C1258.9 277.6 1260.1 273.6 1261.3 270.3C1262.8 266.2 1264.3 263.3 1265.8 263.2C1267.0 263.1 1268.1 264.7 1269.3 265.9C1270.5 267.0 1271.7 267.8 1272.9 267.6C1274.4 267.5 1275.9 266.0 1277.4 265.0C1279.2 263.7 1280.9 263.0 1282.7 262.3C1284.5 261.6 1286.3 261.0 1288.1 260.5C1289.6 260.1 1291.0 259.7 1292.5 261.4C1294.0 263.1 1295.5 266.8 1297.0 270.3C1298.5 273.9 1300.0 277.3 1301.5 281.0C1302.6 284.0 1303.8 287.2 1305.0 289.1C1306.2 290.9 1307.4 291.5 1308.6 290.8C1310.1 290.0 1311.6 287.3 1313.1 283.7C1314.5 280.1 1316.0 275.6 1317.5 272.1C1319.0 268.7 1320.5 266.3 1322.0 264.1C1323.2 262.3 1324.4 260.6 1325.6 259.6C1328.0 257.5 1330.3 258.1 1332.7 257.8C1334.8 257.5 1336.9 256.4 1338.9 256.9C1340.7 257.3 1342.5 258.8 1344.3 261.4C1346.1 263.9 1347.9 267.6 1349.6 270.3C1351.7 273.3 1353.8 275.0 1355.9 276.5C1358.0 278.1 1360.0 279.5 1362.1 281.0"/>
<path class="cv" stroke="#000000" d="M116.8 272.8C118.4 266.1 120.0 259.5 121.6 255.0C123.4 250.0 125.2 247.8 127.0 247.3C129.0 246.8 131.1 248.6 133.2 250.0C134.4 250.8 135.6 251.4 136.8 251.1C138.3 250.7 139.7 248.9 141.2 249.6C142.7 250.4 144.2 253.7 145.7 256.8C147.8 261.0 149.9 264.7 151.9 269.3C154.0 273.8 156.1 279.3 158.2 281.7C159.4 283.2 160.6 283.6 161.7 283.5C163.5 283.4 165.3 282.2 167.1 281.7C168.6 281.3 170.1 281.4 171.6 280.0C172.8 278.8 173.9 276.6 175.1 272.8C176.3 269.0 177.5 263.5 178.7 258.6C179.9 253.6 181.1 249.1 182.3 246.1C183.8 242.3 185.2 240.8 186.7 239.8C189.1 238.2 191.5 238.0 193.9 237.1C195.7 236.5 197.4 235.5 199.2 234.5C200.7 233.6 202.2 232.6 203.7 232.7C205.5 232.7 207.3 234.3 209.0 237.1C211.1 240.5 213.2 245.7 215.3 251.4C217.1 256.3 218.9 261.6 220.6 264.8C221.7 266.7 222.8 267.8 223.8 267.5C225.2 267.1 226.5 264.5 227.8 260.3C229.0 256.5 230.2 251.4 231.3 247.8C233.7 240.7 236.1 239.7 238.5 238.0C240.3 236.8 242.0 235.2 243.8 235.0C245.6 234.8 247.4 236.0 249.2 235.0C250.7 234.2 252.2 231.9 253.6 230.0C255.1 228.0 256.6 226.5 258.1 225.5C260.5 223.9 262.9 223.9 265.2 222.8C267.6 221.8 270.0 219.7 272.4 218.4C274.8 217.0 277.1 216.4 279.5 214.8C281.0 213.8 282.5 212.5 284.0 209.4C285.5 206.4 287.0 201.6 288.4 197.8C290.2 193.3 292.0 190.2 293.8 188.0C295.3 186.2 296.8 185.1 298.3 184.8C300.0 184.5 301.8 185.5 303.6 188.0C305.1 190.1 306.6 193.3 308.1 195.2C309.9 197.4 311.6 197.9 313.4 199.6C314.1 200.2 314.7 201.0 315.3 201.4C317.1 202.5 318.9 201.0 320.7 198.7C322.5 196.4 324.2 193.3 326.0 190.7C326.9 189.4 327.8 188.2 328.7 188.0C330.2 187.7 331.7 190.1 333.2 191.6C334.4 192.7 335.5 193.3 336.7 193.3C337.9 193.4 339.1 192.8 340.3 188.9C341.2 186.0 342.1 181.2 343.0 178.2C344.5 173.2 346.0 173.2 347.4 173.7C349.2 174.3 351.0 175.6 352.8 175.5C354.3 175.4 355.8 174.4 357.3 174.3C359.3 174.1 361.4 175.6 363.5 176.8C365.6 177.9 367.7 178.6 369.7 180.0C371.2 181.0 372.7 182.4 374.2 185.3C375.4 187.7 376.6 191.1 377.8 193.3C379.6 196.8 381.3 197.7 383.1 197.8C384.9 197.9 386.7 197.2 388.5 196.0C390.0 195.1 391.5 193.8 392.9 194.2C395.0 194.8 397.1 198.6 399.2 201.4C401.0 203.8 402.8 205.4 404.5 204.9C406.0 204.6 407.5 202.8 409.0 200.5C409.9 199.2 410.7 197.7 411.6 197.1C413.1 196.2 414.6 198.2 416.1 199.8C417.8 201.7 419.6 203.1 421.4 204.3C423.8 205.8 426.2 207.0 428.6 207.8C430.6 208.6 432.7 209.0 434.8 210.5C436.3 211.6 437.8 213.2 439.3 215.9C440.7 218.6 442.2 222.3 443.7 225.7C445.2 229.1 446.7 232.0 448.2 234.6C450.0 237.7 451.7 240.3 453.5 242.6C455.3 245.0 457.1 247.0 458.9 248.0C460.1 248.6 461.3 248.8 462.5 248.5C463.6 248.2 464.8 247.5 466.0 247.5C467.5 247.4 469.0 248.4 470.5 250.7C472.0 253.0 473.5 256.5 474.9 258.7C476.7 261.3 478.5 261.9 480.3 263.2C482.1 264.5 483.9 266.5 485.7 268.5C487.4 270.5 489.2 272.4 491.0 275.7C492.2 277.8 493.4 280.6 494.6 284.6C495.1 286.4 495.7 288.5 496.2 290.7C497.4 295.6 498.6 301.0 499.8 305.0C501.0 308.9 502.2 311.4 503.3 313.0C505.1 315.5 506.9 316.3 508.7 318.4C510.5 320.5 512.3 323.9 514.1 326.4C516.1 329.3 518.2 330.8 520.3 331.7C522.4 332.7 524.5 333.2 526.5 333.2C528.3 333.1 530.1 332.7 531.9 333.5C533.7 334.4 535.5 336.6 537.3 338.9C539.0 341.2 540.8 343.5 542.6 346.9C544.1 349.8 545.6 353.4 547.1 356.7C548.6 360.0 550.0 363.0 551.5 364.8C552.7 366.2 553.9 366.8 555.1 366.5C557.2 366.2 559.3 363.2 561.3 363.0C563.1 362.8 564.9 364.5 566.7 365.7C568.2 366.6 569.7 367.1 571.2 367.1C573.2 367.0 575.3 365.9 577.4 364.8C579.2 363.8 581.0 362.8 582.8 363.0C584.5 363.1 586.3 364.4 588.1 365.7C589.6 366.7 591.1 367.9 592.6 367.8C594.4 367.7 596.1 365.9 597.9 363.9C600.3 361.2 602.7 358.2 605.1 358.5C607.1 358.8 609.2 361.5 611.3 363.9C613.7 366.6 616.1 368.8 618.4 369.2C620.8 369.7 623.2 368.3 625.6 366.5C627.7 365.0 629.7 363.1 631.8 361.2C633.3 359.8 634.8 358.5 636.3 358.5C637.8 358.5 639.3 360.0 640.7 361.2C642.2 362.4 643.7 363.4 645.2 363.0C647.3 362.4 649.4 358.9 651.5 358.5C652.9 358.3 654.4 359.6 655.9 361.2C657.1 362.5 658.3 363.9 659.5 363.9C661.3 363.9 663.1 360.7 664.8 358.5C666.0 357.1 667.2 356.1 668.4 355.8C669.9 355.5 671.4 356.2 672.9 354.9C674.4 353.7 675.8 350.5 677.3 347.8C679.1 344.6 680.9 342.2 682.7 342.1C684.2 342.0 685.7 343.5 687.1 344.2C688.4 344.8 689.7 344.8 691.0 343.7C692.2 342.7 693.4 340.8 694.6 339.6C696.1 338.1 697.6 337.9 699.1 337.8C700.3 337.7 701.5 337.8 702.6 336.9C704.1 335.9 705.6 333.5 707.1 331.6C708.6 329.7 710.1 328.3 711.6 328.0C713.1 327.7 714.5 328.5 716.0 328.0C717.5 327.5 719.0 325.6 720.5 323.5C721.7 321.9 722.9 320.1 724.1 320.0C725.5 319.8 727.0 322.1 728.5 323.5C729.7 324.7 730.9 325.2 732.1 324.4C733.6 323.5 735.1 320.5 736.5 318.2C738.0 315.8 739.5 314.1 741.0 312.8C743.1 311.0 745.2 309.9 747.3 309.3C749.3 308.6 751.4 308.4 753.5 308.4C755.3 308.3 757.1 308.4 758.9 307.5C760.3 306.7 761.8 305.2 763.3 303.9C764.8 302.6 766.3 301.5 767.8 301.2C769.3 300.9 770.7 301.4 772.2 303.9C773.4 305.9 774.6 309.2 775.8 311.0C777.3 313.3 778.8 313.4 780.3 313.2C782.0 312.9 783.8 312.3 785.6 311.0C787.4 309.8 789.2 307.9 791.0 305.7C792.5 303.9 793.9 301.8 795.4 300.3C796.9 298.8 798.4 297.8 799.9 297.7C801.7 297.5 803.5 298.5 805.2 297.7C806.4 297.1 807.6 295.6 808.8 293.2C810.0 290.8 811.2 287.3 812.4 285.2C813.9 282.4 815.4 281.7 816.8 282.1C818.3 282.6 819.8 284.4 821.3 286.1C822.8 287.8 824.3 289.4 825.8 290.5C827.3 291.6 828.7 292.1 830.2 292.3C832.6 292.6 835.0 292.0 837.4 291.4C839.4 290.9 841.5 290.4 843.6 289.6C845.1 289.1 846.6 288.4 848.1 287.8C849.6 287.2 851.0 286.7 852.5 287.0C853.7 287.2 854.9 287.9 856.1 287.8C857.4 287.8 858.7 286.7 860.0 284.8C861.2 283.0 862.4 280.6 863.6 279.4C865.1 278.0 866.5 278.7 868.0 278.5C869.2 278.4 870.4 277.7 871.6 275.0C872.8 272.3 874.0 267.5 875.2 264.3C876.7 260.1 878.1 258.2 879.6 258.9C880.8 259.4 882.0 261.6 883.2 264.3C884.4 266.9 885.6 270.0 886.8 272.3C888.3 275.1 889.7 276.6 891.2 277.6C893.0 278.9 894.8 279.5 896.6 281.2C898.1 282.7 899.6 284.9 901.0 286.6C902.5 288.2 904.0 289.3 905.5 289.2C906.7 289.2 907.9 288.4 909.1 285.7C910.3 283.0 911.5 278.4 912.6 275.9C914.1 272.7 915.6 272.7 917.1 272.8C918.3 273.0 919.5 273.2 920.7 271.8C921.6 270.7 922.5 268.6 923.3 266.9C924.5 264.7 925.7 263.1 926.9 263.4C928.1 263.6 929.3 265.8 930.5 269.6C931.7 273.4 932.9 278.9 934.1 282.1C935.5 286.1 937.0 286.4 938.5 287.5C940.0 288.5 941.5 290.3 943.0 291.9C944.2 293.2 945.4 294.5 946.5 293.7C947.7 292.9 948.9 290.1 950.1 286.6C951.3 283.0 952.5 278.6 953.7 275.0C954.9 271.3 956.1 268.4 957.3 266.9C958.7 265.1 960.2 265.7 961.7 266.4C962.9 267.0 964.1 267.7 965.3 267.8C966.5 267.9 967.7 267.4 968.9 267.8C970.3 268.4 971.8 270.4 973.3 271.4C974.8 272.4 976.3 272.5 977.8 271.8C979.6 270.9 981.3 268.9 983.1 268.7C984.6 268.6 986.1 269.7 987.6 270.5C989.4 271.5 991.2 272.2 992.9 273.2C994.7 274.2 996.5 275.4 998.3 276.7C999.8 277.8 1001.3 278.9 1002.8 278.5C1003.9 278.2 1005.1 277.0 1006.3 275.0C1007.5 273.0 1008.7 270.2 1009.9 267.8C1011.1 265.4 1012.3 263.3 1013.5 261.6C1014.9 259.4 1016.4 257.9 1017.9 258.0C1019.4 258.1 1020.9 259.9 1022.4 262.5C1023.9 265.0 1025.4 268.4 1026.8 271.4C1028.3 274.4 1029.8 277.2 1031.3 278.5C1032.8 279.9 1034.3 279.9 1035.8 279.4C1037.3 278.9 1038.7 277.9 1040.2 275.0C1041.4 272.6 1042.6 269.0 1043.8 266.9C1045.3 264.3 1046.8 264.1 1048.3 263.9C1049.7 263.7 1051.2 263.5 1052.7 265.1C1053.9 266.5 1055.1 269.0 1056.3 269.6C1057.5 270.3 1058.7 269.0 1059.9 267.8C1061.6 266.0 1063.4 264.2 1065.2 264.3C1066.7 264.3 1068.2 265.7 1069.7 266.9C1071.5 268.4 1073.2 269.7 1075.0 270.5C1076.8 271.3 1078.6 271.6 1080.4 272.3C1082.2 273.0 1083.9 274.2 1085.7 274.1C1087.2 274.0 1088.6 273.1 1090.0 272.1C1091.8 270.9 1093.6 269.7 1095.4 269.4C1097.1 269.2 1098.9 270.0 1100.7 269.4C1102.2 268.9 1103.7 267.5 1105.2 267.6C1106.7 267.8 1108.1 269.5 1109.6 271.2C1111.1 272.9 1112.6 274.6 1114.1 275.7C1115.6 276.7 1117.1 277.2 1118.6 278.3C1120.0 279.5 1121.5 281.4 1123.0 282.5C1123.9 283.1 1124.8 283.4 1125.7 282.8C1126.9 282.0 1128.1 279.4 1129.3 277.5C1131.0 274.5 1132.8 272.8 1134.6 272.1C1136.4 271.4 1138.2 271.7 1140.0 270.3C1141.7 269.0 1143.5 266.0 1145.3 264.1C1147.1 262.2 1148.9 261.4 1150.7 261.8C1152.2 262.1 1153.6 263.2 1155.1 265.9C1156.3 268.0 1157.5 271.0 1158.7 273.9C1159.9 276.8 1161.1 279.5 1162.3 281.0C1163.5 282.6 1164.6 282.9 1165.8 282.5C1167.3 281.9 1168.8 280.0 1170.3 279.2C1171.8 278.5 1173.3 278.8 1174.8 278.3C1176.2 277.9 1177.7 276.7 1179.2 274.8C1180.7 272.9 1182.2 270.3 1183.7 268.5C1185.5 266.5 1187.3 265.7 1189.0 265.0C1190.2 264.5 1191.4 264.1 1192.6 260.5C1193.5 257.8 1194.4 253.4 1195.3 250.7C1196.5 247.1 1197.7 246.6 1198.9 246.2C1200.3 245.7 1201.8 245.4 1203.3 244.4C1204.8 243.5 1206.3 242.0 1207.8 240.9C1209.3 239.7 1210.7 239.0 1212.2 244.4C1213.1 247.7 1214.0 253.2 1214.9 257.8C1215.8 262.4 1216.7 266.1 1217.6 268.5C1218.8 271.8 1220.0 272.7 1221.2 273.0C1222.9 273.4 1224.7 272.5 1226.5 272.1C1228.0 271.8 1229.5 272.0 1231.0 269.4C1232.2 267.4 1233.3 263.6 1234.5 259.6C1235.4 256.6 1236.3 253.4 1237.2 251.6C1238.4 249.1 1239.6 249.0 1240.8 248.9C1242.0 248.8 1243.2 248.8 1244.4 248.0C1245.8 247.1 1247.3 245.0 1248.8 243.6C1250.0 242.4 1251.2 241.6 1252.4 241.4C1253.9 241.2 1255.4 242.0 1256.8 241.8C1258.6 241.5 1260.4 239.8 1262.2 239.6C1263.7 239.5 1265.2 240.4 1266.7 243.6C1267.8 246.1 1269.0 250.1 1270.2 253.4C1271.4 256.6 1272.6 259.1 1273.8 260.5C1275.6 262.6 1277.4 262.4 1279.2 262.3C1280.9 262.2 1282.7 262.2 1284.5 261.4C1286.3 260.6 1288.1 259.1 1289.9 258.7C1291.6 258.4 1293.4 259.2 1295.2 257.8C1296.4 256.9 1297.6 254.9 1298.8 253.4C1300.6 251.0 1302.3 249.5 1304.1 249.8C1305.6 250.0 1307.1 251.6 1308.6 253.4C1310.1 255.2 1311.6 257.3 1313.1 257.8C1314.8 258.5 1316.6 257.0 1318.4 256.9C1320.2 256.9 1322.0 258.4 1323.8 259.6C1325.0 260.4 1326.2 261.2 1327.4 261.7C1330.3 263.0 1333.3 263.1 1336.3 263.5C1338.1 263.7 1339.8 264.0 1341.6 264.0C1343.4 264.0 1345.2 263.6 1347.0 261.4C1348.5 259.5 1349.9 256.2 1351.4 253.3C1352.9 250.4 1354.4 247.9 1355.9 246.2C1357.1 244.8 1358.3 244.0 1359.5 243.9C1360.3 243.8 1361.2 244.1 1362.1 244.4"/>
<path class="cv" stroke="#ff00ff" d="M117.1 282.6C118.3 280.1 119.5 277.5 120.7 274.6C122.2 271.0 123.7 267.1 125.2 265.7C126.1 264.9 127.0 265.0 127.8 265.3C129.6 266.0 131.4 267.7 133.2 268.4C136.2 269.5 139.1 268.1 142.1 267.8C144.5 267.6 146.9 268.1 149.3 267.5C151.6 266.9 154.0 265.2 156.4 263.9C158.2 262.9 160.0 262.1 161.7 263.0C163.5 263.9 165.3 266.5 167.1 265.7C168.9 264.9 170.7 260.7 172.5 258.6C173.9 256.8 175.4 256.5 176.9 256.4C179.6 256.3 182.3 257.0 184.9 255.0C186.7 253.6 188.5 251.1 190.3 247.8C192.7 243.5 195.1 237.8 197.4 238.0C199.8 238.2 202.2 244.4 204.6 249.6C206.7 254.2 208.7 258.2 210.8 257.7C212.9 257.1 215.0 252.1 217.1 246.0C219.4 239.1 221.8 230.9 224.2 224.6C226.6 218.3 229.0 213.8 231.3 210.3C234.6 205.6 237.9 202.7 241.2 202.3C243.8 202.0 246.5 203.3 249.2 206.8C251.6 209.8 253.9 214.6 256.3 218.4C258.7 222.1 261.1 225.0 263.5 225.5C265.8 226.0 268.2 224.3 270.6 221.0C273.0 217.8 275.4 213.0 277.7 209.4C280.1 205.9 282.5 203.6 284.9 202.3C288.4 200.3 292.0 200.5 295.6 197.8C297.1 196.7 298.6 195.1 300.1 192.5C301.6 189.9 303.1 186.3 304.6 187.1C306.1 187.9 307.6 193.0 309.1 197.8C310.6 202.6 312.0 207.2 313.5 210.3C314.7 212.8 315.9 214.4 317.1 213.9C318.6 213.2 320.1 209.2 321.6 204.9C323.3 199.9 325.1 194.5 326.9 190.7C329.0 186.2 331.1 184.0 333.2 184.4C334.9 184.8 336.7 187.1 338.5 188.9C340.3 190.7 342.1 191.9 343.9 191.6C345.7 191.2 347.4 189.2 349.2 187.1C351.6 184.3 354.0 181.3 356.4 181.7C358.1 182.0 359.9 184.2 361.7 187.1C363.5 190.0 365.3 193.5 367.1 193.3C368.9 193.2 370.6 189.4 372.4 187.1C374.2 184.8 376.0 184.1 377.8 183.5C380.2 182.8 382.5 182.5 384.9 183.5C386.1 184.1 387.3 184.9 388.5 187.1C390.0 189.8 391.5 194.6 392.9 197.8C395.0 202.3 397.1 203.6 399.2 206.7C401.2 209.8 403.3 214.7 405.4 218.6C407.7 223.0 410.1 226.1 412.5 228.4C414.9 230.6 417.2 232.0 419.6 232.8C421.4 233.4 423.2 233.6 425.0 232.8C427.1 231.9 429.1 229.6 431.2 227.5C433.3 225.4 435.4 223.5 437.5 223.5C439.3 223.6 441.0 225.0 442.8 225.7C444.6 226.3 446.4 226.2 448.2 227.1C449.7 227.9 451.2 229.3 452.6 231.9C454.1 234.5 455.6 238.2 457.1 241.7C458.6 245.3 460.1 248.6 461.6 252.5C463.1 256.3 464.5 260.6 466.0 264.9C467.2 268.5 468.4 272.0 469.6 275.7C471.3 281.0 473.1 286.4 474.8 288.9C476.6 291.5 478.4 291.1 480.1 292.5C481.3 293.4 482.5 295.2 483.7 297.8C484.9 300.4 486.1 303.9 487.3 306.8C488.8 310.4 490.3 313.3 491.7 315.7C493.5 318.6 495.3 320.9 497.1 324.6C498.6 327.7 500.1 331.8 501.6 335.3C502.8 338.2 503.9 340.7 505.1 341.6C506.3 342.4 507.5 341.6 508.7 340.7C509.6 340.0 510.5 339.2 511.4 339.8C512.6 340.5 513.8 343.5 514.9 346.0C516.7 349.8 518.5 352.6 520.3 354.9C522.1 357.3 523.9 359.3 525.7 362.1C526.9 364.1 528.2 366.5 529.4 369.3C531.2 373.2 533.0 378.0 534.8 381.8C536.6 385.6 538.4 388.4 540.1 390.7C541.6 392.6 543.1 394.1 544.6 394.3C546.1 394.4 547.6 393.2 549.1 393.4C550.6 393.5 552.0 395.0 553.5 396.9C555.0 398.9 556.5 401.3 558.0 400.5C559.2 399.9 560.4 397.2 561.6 395.1C563.1 392.6 564.5 391.0 566.0 389.8C567.5 388.6 569.0 387.9 570.5 388.5C572.0 389.2 573.5 391.1 574.9 393.4C576.4 395.6 577.9 398.1 579.4 400.5C580.9 402.9 582.4 405.1 583.9 405.9C585.7 406.8 587.4 405.5 589.2 405.9C590.4 406.1 591.6 407.0 592.8 409.4C594.0 411.9 595.2 415.9 596.4 418.3C597.5 420.8 598.7 421.6 599.9 421.4C601.7 421.1 603.5 418.4 605.3 415.7C607.1 413.0 608.9 410.3 610.6 408.5C611.8 407.4 613.0 406.6 614.2 406.7C615.7 406.9 617.2 408.4 618.7 409.4C620.2 410.5 621.6 411.1 623.1 410.3C624.9 409.4 626.7 406.5 628.5 405.0C630.9 402.9 633.2 403.1 635.6 402.3C637.7 401.6 639.8 400.2 641.9 401.4C643.3 402.2 644.8 404.4 646.3 405.9C647.5 407.0 648.7 407.7 649.9 407.6C651.7 407.6 653.5 405.9 655.2 403.2C657.0 400.4 658.8 396.6 660.6 393.4C662.4 390.1 664.2 387.5 666.0 387.1C667.7 386.7 669.5 388.4 671.3 387.1C673.1 385.8 674.9 381.4 676.7 378.2C678.4 375.0 680.2 372.9 682.0 372.0C683.2 371.3 684.5 371.1 685.7 370.8C687.5 370.3 689.3 369.5 691.0 369.0C693.1 368.5 695.2 368.6 697.3 367.3C698.8 366.3 700.3 364.6 701.7 362.8C703.5 360.6 705.3 358.3 707.1 356.5C708.9 354.8 710.7 353.5 712.5 352.1C714.2 350.7 716.0 349.1 717.8 349.4C719.6 349.7 721.4 351.8 723.2 353.0C724.6 354.0 726.1 354.4 727.6 353.9C729.1 353.4 730.6 352.0 732.1 351.7C733.9 351.3 735.7 352.4 737.4 352.4C738.6 352.4 739.8 352.0 741.0 349.4C741.9 347.5 742.8 344.4 743.7 341.4C744.9 337.3 746.1 333.3 747.3 330.7C748.7 327.4 750.2 326.3 751.7 325.3C753.5 324.1 755.3 323.0 757.1 321.7C758.9 320.5 760.6 319.3 762.4 318.2C763.9 317.3 765.4 316.5 766.9 314.6C768.1 313.1 769.3 310.8 770.4 308.4C771.9 305.3 773.4 301.9 774.9 299.4C776.7 296.5 778.5 294.9 780.3 295.0C781.8 295.1 783.2 296.4 784.7 298.6C785.9 300.3 787.1 302.5 788.3 303.0C789.8 303.7 791.3 301.8 792.8 300.3C794.2 298.8 795.7 297.7 797.2 298.2C798.7 298.7 800.2 300.8 801.7 303.0C803.2 305.3 804.7 307.7 806.1 309.3C807.6 310.8 809.1 311.4 810.6 311.4C812.4 311.3 814.2 310.3 816.0 308.4C817.7 306.4 819.5 303.6 821.3 301.2C823.1 298.9 824.9 296.9 826.7 295.9C828.4 294.8 830.2 294.6 832.0 295.0C833.8 295.4 835.6 296.3 837.4 296.8C838.9 297.1 840.3 297.1 841.8 296.8C843.3 296.4 844.8 295.7 846.3 295.0C848.1 294.2 849.9 293.4 851.6 294.1C853.4 294.8 855.2 296.9 857.0 296.8C858.5 296.7 860.0 295.1 861.5 295.0C862.3 294.9 863.2 295.4 864.1 296.8C865.3 298.6 866.5 302.1 867.7 303.9C868.6 305.3 869.5 305.8 870.4 305.3C871.6 304.7 872.8 302.5 873.9 298.6C875.1 294.6 876.3 288.9 877.5 284.3C878.4 280.8 879.3 278.0 880.2 276.2C881.7 273.4 883.2 273.7 884.7 273.6C886.7 273.4 888.8 272.2 890.9 272.7C892.7 273.1 894.5 274.6 896.3 275.4C898.4 276.3 900.6 276.2 902.8 277.6C904.6 278.8 906.4 281.1 908.2 283.0C910.0 284.9 911.7 286.4 913.5 287.5C915.3 288.5 917.1 289.1 918.9 289.2C920.7 289.4 922.5 289.0 924.2 287.5C925.7 286.2 927.2 284.1 928.7 283.0C930.2 281.9 931.7 281.6 933.2 282.1C934.9 282.6 936.7 284.2 938.5 285.7C940.3 287.2 942.1 288.7 943.9 290.1C945.4 291.3 946.8 292.4 948.3 291.9C949.8 291.4 951.3 289.3 952.8 286.6C954.3 283.8 955.8 280.3 957.3 278.5C958.4 277.1 959.6 276.7 960.8 277.6C962.0 278.5 963.2 280.7 964.4 282.1C965.9 283.9 967.4 284.5 968.9 284.8C970.6 285.2 972.4 285.2 974.2 284.8C975.7 284.4 977.2 283.8 978.7 282.1C980.2 280.4 981.6 277.5 983.1 275.0C984.6 272.4 986.1 270.2 987.6 268.7C989.1 267.2 990.6 266.4 992.0 266.4C993.5 266.4 995.0 267.2 996.5 268.7C998.0 270.2 999.5 272.5 1001.0 274.1C1002.8 276.0 1004.5 277.0 1006.3 279.4C1007.8 281.4 1009.3 284.3 1010.8 286.6C1012.3 288.8 1013.8 290.4 1015.2 290.1C1017.0 289.8 1018.8 286.8 1020.6 283.9C1022.1 281.5 1023.6 279.1 1025.1 277.6C1026.8 275.9 1028.6 275.6 1030.4 275.0C1032.2 274.4 1034.0 273.5 1035.8 274.1C1037.3 274.5 1038.7 275.9 1040.2 275.9C1042.0 275.7 1043.8 273.5 1045.6 271.4C1047.7 269.0 1049.7 266.8 1051.8 265.1C1053.9 263.5 1056.0 262.3 1058.1 262.5C1059.9 262.7 1061.6 263.9 1063.4 266.0C1064.9 267.8 1066.4 270.3 1067.9 272.3C1069.7 274.7 1071.5 276.4 1073.2 277.6C1075.0 278.9 1076.8 279.7 1078.6 279.4C1080.7 279.1 1082.8 277.5 1084.8 277.6C1086.6 277.8 1088.3 279.2 1090.0 278.3C1091.5 277.6 1093.0 275.3 1094.5 273.9C1095.9 272.5 1097.4 272.1 1098.9 272.1C1100.7 272.1 1102.5 272.8 1104.3 272.1C1105.8 271.5 1107.2 269.9 1108.7 266.7C1109.9 264.2 1111.1 260.6 1112.3 257.8C1113.8 254.4 1115.3 252.3 1116.8 250.7C1118.3 249.1 1119.7 248.0 1121.2 248.0C1122.7 248.0 1124.2 249.1 1125.7 251.6C1126.9 253.6 1128.1 256.5 1129.3 259.6C1130.7 263.5 1132.2 267.7 1133.7 270.3C1135.2 273.0 1136.7 274.2 1138.2 274.8C1140.0 275.5 1141.7 275.5 1143.5 274.8C1145.3 274.1 1147.1 272.7 1148.9 273.0C1150.4 273.3 1151.9 274.7 1153.3 275.7C1154.8 276.6 1156.3 277.0 1157.8 276.6C1159.6 276.0 1161.4 274.2 1163.2 272.1C1164.9 270.0 1166.7 267.4 1168.5 265.0C1170.3 262.5 1172.1 260.1 1173.9 258.7C1175.7 257.4 1177.4 257.1 1179.2 257.8C1181.0 258.5 1182.8 260.1 1184.6 260.5C1186.4 260.9 1188.1 260.1 1189.9 260.5C1191.4 260.8 1192.9 262.0 1194.4 264.1C1195.9 266.2 1197.4 269.3 1198.9 272.1C1200.6 275.5 1202.4 278.5 1204.2 281.0C1205.7 283.2 1207.2 285.0 1208.7 286.4C1210.2 287.8 1211.6 288.7 1213.1 288.2C1214.6 287.7 1216.1 285.7 1217.6 283.7C1219.1 281.7 1220.6 279.6 1222.0 278.3C1223.8 276.9 1225.6 276.8 1227.4 276.6C1229.2 276.4 1231.0 276.1 1232.8 273.9C1234.2 272.0 1235.7 268.7 1237.2 266.7C1238.4 265.2 1239.6 264.4 1240.8 265.0C1242.0 265.6 1243.2 267.5 1244.4 269.4C1245.5 271.3 1246.7 273.1 1247.9 274.8C1249.4 276.9 1250.9 279.0 1252.4 280.1C1254.2 281.5 1256.0 281.6 1257.7 281.9C1259.5 282.2 1261.3 282.6 1263.1 283.7C1264.9 284.8 1266.7 286.5 1268.4 288.2C1270.2 289.8 1272.0 291.4 1273.8 292.6C1275.3 293.6 1276.8 294.4 1278.3 294.4C1280.0 294.4 1281.8 293.2 1283.6 290.8C1285.1 288.9 1286.6 286.2 1288.1 282.8C1289.6 279.4 1291.0 275.3 1292.5 272.1C1294.0 268.9 1295.5 266.4 1297.0 265.9C1298.5 265.3 1300.0 266.5 1301.5 266.7C1302.6 266.9 1303.8 266.4 1305.0 265.9C1306.8 265.0 1308.6 263.9 1310.4 263.2C1312.2 262.4 1313.9 262.0 1315.7 262.3C1317.8 262.6 1319.9 263.8 1322.0 264.0C1323.8 264.2 1325.6 263.8 1327.4 266.7C1328.8 269.1 1330.3 273.9 1331.8 276.5C1333.3 279.1 1334.8 279.5 1336.3 279.2C1338.1 278.8 1339.8 277.2 1341.6 277.4C1343.1 277.5 1344.6 278.9 1346.1 279.2C1347.6 279.5 1349.1 278.7 1350.5 275.6C1351.7 273.1 1352.9 269.2 1354.1 266.7C1355.3 264.2 1356.5 263.3 1357.7 262.8C1359.2 262.1 1360.6 262.2 1362.1 262.2"/>
<text class="lb" transform="translate(739.3,559.8) scale(1.04,1.085)" text-anchor="middle">Latency (ms)</text>
<text class="lb" transform="translate(28.0,256.0) rotate(-90) scale(0.99,1)" text-anchor="middle" style="font-size:35.5px">Amplitude (µV)</text>
<text class="lg" transform="translate(297.6,52.3) scale(0.94,1)" style="font-size:34px">N2</text>
<text class="lg" transform="translate(541.3,52.3) scale(0.94,1)" style="font-size:34px">P3</text>
<text class="lg" transform="translate(1361.9,88.2) scale(1.018,1.04)" style="font-size:32px">Pz</text>
<line x1="1061" y1="12.1" x2="1175.8" y2="12.1" stroke="#ff0000" stroke-width="4.0"/>
<text class="lg" transform="translate(1187.0,23.6) scale(0.953,1)">ML target</text>
<line x1="1061" y1="54.1" x2="1175.8" y2="54.1" stroke="#00ff00" stroke-width="4.0"/>
<text class="lg" transform="translate(1187.0,65.7) scale(0.953,1)">SL target</text>
<line x1="1061" y1="96.2" x2="1175.8" y2="96.2" stroke="#0000ff" stroke-width="4.0"/>
<text class="lg" transform="translate(1187.0,107.7) scale(0.953,1)">E target</text>
<line x1="1061" y1="138.2" x2="1175.8" y2="138.2" stroke="#000000" stroke-width="4.0"/>
<text class="lg" transform="translate(1187.0,149.8) scale(0.953,1)">SS target</text>
<line x1="1061" y1="180.3" x2="1175.8" y2="180.3" stroke="#ff00ff" stroke-width="4.0"/>
<text class="lg" transform="translate(1187.0,191.8) scale(0.953,1)">MS target</text>
</svg>
</body></html>
